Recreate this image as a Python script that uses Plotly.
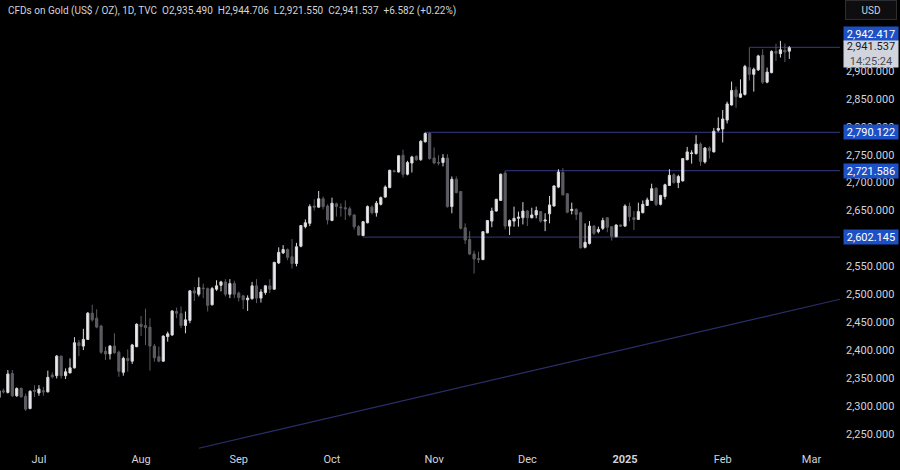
import pandas as pd
import plotly.graph_objects as go

# daily candles, oldest first
opens = [2315, 2327, 2324, 2358, 2318, 2331, 2317, 2295, 2328, 2323, 2327, 2325, 2355, 2354, 2389, 2354, 2359, 2368, 2413, 2407,
         2419, 2466, 2457, 2443, 2398, 2393, 2407, 2396, 2360, 2385, 2380, 2406, 2446, 2444, 2441, 2407, 2388, 2380, 2424, 2427,
         2469, 2465, 2444, 2453, 2506, 2500, 2511, 2510, 2481, 2509, 2516, 2522, 2500, 2519, 2502, 2497, 2490, 2492, 2515, 2493,
         2503, 2515, 2509, 2556, 2574, 2580, 2567, 2555, 2586, 2621, 2627, 2658, 2656, 2671, 2658, 2632, 2662, 2656, 2655, 2653,
         2642, 2621, 2605, 2628, 2656, 2646, 2661, 2674, 2691, 2721, 2719, 2749, 2715, 2735, 2747, 2741, 2773, 2788, 2744, 2736,
         2736, 2744, 2657, 2706, 2684, 2619, 2598, 2572, 2564, 2562, 2610, 2631, 2649, 2668, 2717, 2622, 2631, 2636, 2637, 2649,
         2637, 2642, 2648, 2631, 2644, 2658, 2692, 2718, 2680, 2650, 2652, 2646, 2584, 2591, 2622, 2612, 2618, 2637, 2621, 2603,
         2624, 2622, 2657, 2637, 2634, 2646, 2659, 2668, 2690, 2661, 2675, 2695, 2714, 2700, 2703, 2741, 2752, 2752, 2769, 2737,
         2762, 2755, 2794, 2796, 2812, 2839, 2866, 2853, 2858, 2906, 2894, 2902, 2928, 2880, 2897, 2935, 2931, 2937, 2935.49]
highs = [2330, 2331, 2364, 2364, 2333, 2333, 2322, 2328, 2337, 2337, 2334, 2363, 2360, 2391, 2390, 2367, 2385, 2423, 2418, 2438,
         2468, 2481, 2473, 2445, 2406, 2409, 2430, 2399, 2388, 2401, 2411, 2448, 2461, 2474, 2457, 2411, 2406, 2426, 2433, 2471,
         2476, 2478, 2469, 2507, 2513, 2530, 2519, 2512, 2513, 2525, 2524, 2527, 2527, 2524, 2505, 2499, 2498, 2522, 2527, 2509,
         2516, 2527, 2558, 2584, 2588, 2582, 2599, 2592, 2624, 2634, 2661, 2670, 2685, 2675, 2661, 2673, 2664, 2663, 2668, 2657,
         2643, 2624, 2631, 2659, 2659, 2667, 2675, 2695, 2723, 2723, 2749, 2759, 2739, 2748, 2749, 2776, 2790, 2790, 2763, 2749,
         2751, 2751, 2711, 2711, 2685, 2627, 2613, 2578, 2576, 2613, 2633, 2655, 2671, 2716, 2721, 2634, 2657, 2648, 2665, 2651,
         2655, 2657, 2649, 2645, 2676, 2695, 2724, 2726, 2681, 2664, 2654, 2648, 2627, 2631, 2624, 2621, 2637, 2638, 2622, 2625,
         2625, 2661, 2664, 2649, 2664, 2668, 2673, 2698, 2691, 2678, 2698, 2724, 2717, 2714, 2744, 2764, 2758, 2785, 2772, 2764,
         2765, 2798, 2817, 2830, 2845, 2881, 2872, 2885, 2911, 2942, 2906, 2929, 2939, 2906, 2937, 2949, 2954, 2949, 2944.706]
lows = [2313, 2322, 2322, 2316, 2316, 2315, 2291, 2294, 2316, 2318, 2318, 2324, 2349, 2349, 2349, 2348, 2358, 2367, 2389, 2400,
        2418, 2451, 2439, 2393, 2382, 2383, 2393, 2352, 2354, 2361, 2375, 2405, 2425, 2409, 2363, 2379, 2378, 2379, 2415, 2425,
        2457, 2439, 2430, 2448, 2488, 2496, 2493, 2469, 2480, 2506, 2505, 2496, 2493, 2493, 2487, 2473, 2470, 2490, 2484, 2485,
        2499, 2502, 2508, 2554, 2572, 2561, 2546, 2550, 2584, 2618, 2622, 2650, 2655, 2652, 2625, 2631, 2639, 2639, 2633, 2639,
        2616, 2605, 2604, 2627, 2643, 2639, 2659, 2673, 2690, 2718, 2718, 2709, 2713, 2718, 2739, 2739, 2772, 2741, 2733, 2731,
        2729, 2655, 2645, 2681, 2616, 2590, 2570, 2537, 2556, 2561, 2609, 2620, 2648, 2667, 2616, 2606, 2621, 2621, 2625, 2622,
        2636, 2636, 2628, 2613, 2627, 2657, 2690, 2677, 2645, 2643, 2633, 2582, 2582, 2589, 2606, 2609, 2615, 2611, 2596, 2602,
        2621, 2621, 2631, 2615, 2633, 2645, 2658, 2667, 2658, 2659, 2670, 2694, 2698, 2690, 2702, 2740, 2734, 2750, 2730, 2734,
        2743, 2754, 2791, 2772, 2806, 2838, 2834, 2852, 2856, 2883, 2863, 2900, 2877, 2878, 2896, 2918, 2924, 2916, 2921.55]
closes = [2327, 2325, 2357, 2318, 2331, 2316, 2294, 2326, 2326, 2330, 2325, 2351, 2352, 2389, 2354, 2361, 2368, 2413, 2408, 2419,
          2466, 2454, 2441, 2396, 2393, 2407, 2395, 2362, 2385, 2381, 2409, 2446, 2442, 2440, 2407, 2386, 2380, 2425, 2429, 2470,
          2466, 2444, 2454, 2506, 2502, 2512, 2510, 2480, 2510, 2515, 2522, 2500, 2519, 2500, 2494, 2490, 2493, 2515, 2493, 2504,
          2515, 2509, 2557, 2575, 2580, 2566, 2555, 2585, 2623, 2628, 2657, 2656, 2671, 2657, 2633, 2663, 2657, 2655, 2653, 2642,
          2621, 2606, 2630, 2657, 2646, 2663, 2673, 2692, 2722, 2720, 2748, 2715, 2736, 2746, 2741, 2774, 2788, 2743, 2735, 2735,
          2744, 2657, 2706, 2682, 2618, 2597, 2572, 2563, 2562, 2612, 2632, 2649, 2670, 2715, 2622, 2632, 2636, 2638, 2649, 2637,
          2642, 2650, 2631, 2633, 2660, 2694, 2719, 2678, 2647, 2652, 2643, 2583, 2593, 2622, 2609, 2616, 2632, 2620, 2604, 2624,
          2622, 2658, 2639, 2634, 2648, 2661, 2669, 2689, 2661, 2677, 2696, 2713, 2700, 2711, 2743, 2755, 2753, 2769, 2738, 2762,
          2757, 2792, 2797, 2814, 2841, 2865, 2854, 2859, 2908, 2894, 2903, 2927, 2880, 2898, 2935, 2932, 2938, 2934, 2941.537]

dates = pd.bdate_range(end='2025-02-21', periods=len(opens))

month_dates = ['2024-07-01', '2024-08-01', '2024-09-02', '2024-10-01', '2024-11-01', '2024-12-02',
               '2025-01-01', '2025-01-31', '2025-02-28']
month_labels = ['Jul', 'Aug', 'Sep', 'Oct', 'Nov', 'Dec', '<b>2025</b>', 'Feb', 'Mar']

# 2,600 and 2,950 sit behind the price tags on the original, so they are left out
price_ticks = [2250, 2300, 2350, 2400, 2450, 2500, 2550, 2650, 2700, 2750, 2800, 2850, 2900]

level_prices = [2942.417, 2790.122, 2721.586, 2602.145]
level_starts = ['2025-02-10', '2024-10-30', '2024-11-25', '2024-10-10']
level_labels = ['2,942.417', '2,790.122', '2,721.586', '2,602.145']
level_shifts = [13, 0, 0, 0]

trend_dates = ['2024-08-20', '2025-03-10 10:00']
trend_prices = [2224, 2491]

header = ('CFDs on Gold (US$ / OZ), 1D, TVC&nbsp;&nbsp;O2,935.490&nbsp;&nbsp;H2,944.706&nbsp;&nbsp;'
          'L2,921.550&nbsp;&nbsp;C2,941.537&nbsp;&nbsp;+6.582 (+0.22%)')

TEXT = '#d1d4dc'
LINE = '#2a2e6b'
BLUE = '#1c50c4'
FONT = 'Roboto'

fig = go.Figure(go.Candlestick(
    x=dates, open=opens, high=highs, low=lows, close=closes,
    increasing=dict(line=dict(color='#d8d8dc', width=1), fillcolor='#ececf0'),
    decreasing=dict(line=dict(color='#5c5c62', width=1), fillcolor='#5c5c62'),
    whiskerwidth=0,
))

for price, start in zip(level_prices, level_starts):
    fig.add_shape(type='line', layer='below', xref='x', yref='y',
                  x0=start, x1=trend_dates[1], y0=price, y1=price,
                  line=dict(color=LINE, width=1.2))
fig.add_shape(type='line', layer='below', xref='x', yref='y',
              x0=trend_dates[0], x1=trend_dates[1], y0=trend_prices[0], y1=trend_prices[1],
              line=dict(color=LINE, width=1.2))

fig.add_annotation(xref='paper', yref='paper', x=0.007, y=1.0, yshift=-2, xanchor='left', yanchor='top',
                   text=header, showarrow=False, font=dict(size=10, color=TEXT, family=FONT))

for price, label, shift in zip(level_prices, level_labels, level_shifts):
    fig.add_annotation(xref='paper', yref='y', x=843 / 840, y=price, yshift=shift, xanchor='left', yanchor='middle',
                       text=label, showarrow=False, bgcolor=BLUE, width=54, height=14, borderpad=0,
                       align='center', font=dict(size=11, color='#ffffff', family=FONT))

fig.add_annotation(xref='paper', yref='paper', x=843 / 840, y=1 - 54 / 449, xanchor='left', yanchor='middle',
                   text='2,941.537<br><span style="color:#4a4d55">14:25:24</span>', showarrow=False,
                   bgcolor=TEXT, width=54, height=26, borderpad=0, align='center',
                   font=dict(size=11, color='#1a1a1e', family=FONT))

fig.add_annotation(xref='paper', yref='paper', x=845 / 840, y=1.0, xanchor='left', yanchor='top',
                   text='USD', showarrow=False, bgcolor='#0e0e10', bordercolor='#2e2e32', borderwidth=1,
                   width=50, height=18, borderpad=0, align='center', font=dict(size=10, color=TEXT, family=FONT))

fig.update_layout(
    width=900, height=470,
    margin=dict(l=0, r=60, t=0, b=21),
    paper_bgcolor='#000000', plot_bgcolor='#000000',
    showlegend=False,
    font=dict(family=FONT, size=11, color=TEXT),
    xaxis=dict(
        range=['2024-06-18 05:30', trend_dates[1]],
        rangeslider=dict(visible=False),
        rangebreaks=[dict(bounds=['sat', 'mon'])],
        tickmode='array', tickvals=month_dates, ticktext=month_labels,
        showgrid=False, zeroline=False, showline=False, ticks='',
        ticklabelstandoff=2,
        tickfont=dict(size=11, color=TEXT, family=FONT),
    ),
    yaxis=dict(
        side='right', range=[2222.6, 3027.2],
        tickmode='array', tickvals=price_ticks,
        ticktext=[f'{p:,.3f}' for p in price_ticks],
        showgrid=False, zeroline=False, showline=False, ticks='',
        ticklabelstandoff=5,
        tickfont=dict(size=11, color=TEXT, family=FONT),
    ),
)

fig.write_html('out.html', config={'displayModeBar': False}, post_script="document.body.style.margin='0';")
